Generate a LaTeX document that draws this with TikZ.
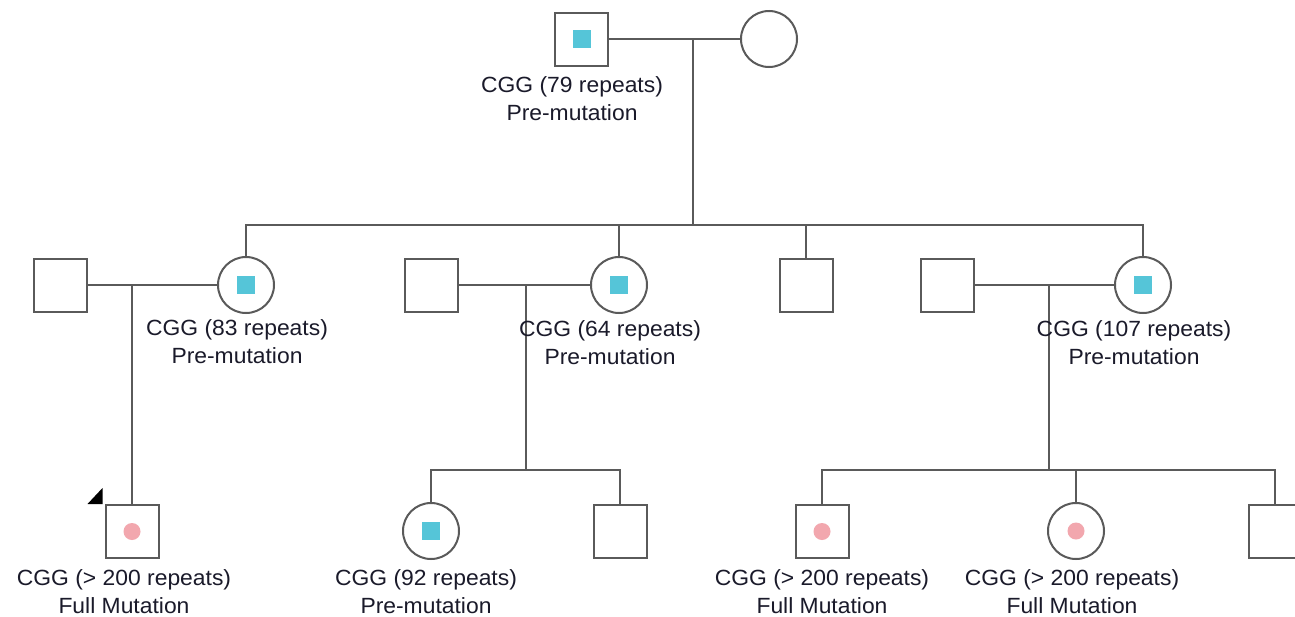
\documentclass[tikz,border=0pt]{standalone}
\usepackage{fontspec}
\setmainfont{Liberation Sans}[FakeStretch=1.04]
\usetikzlibrary{calc}
\definecolor{ln}{HTML}{5A5A5A}
\definecolor{cy}{HTML}{55C5D8}
\definecolor{pk}{HTML}{F2A7AE}
\definecolor{tx}{HTML}{1A1A2A}
\begin{document}
\begin{tikzpicture}[x=1pt,y=-1pt,line width=2pt,
  conn/.style={draw=ln,line width=2pt},
  male/.style={draw=ln,fill=white,minimum size=53pt,inner sep=0pt,line width=2pt},
  female/.style={circle,draw=ln,fill=white,minimum size=56pt,inner sep=0pt,line width=2pt},
  carrier/.style={path picture={\fill[cy] ($(path picture bounding box.center)+(-9pt,-9pt)$) rectangle ($(path picture bounding box.center)+(9pt,9pt)$);}},
  affected/.style={path picture={\fill[pk] (path picture bounding box.center) circle (8.5pt);}},
  lbl/.style={text=tx,font=\fontsize{22}{28}\selectfont,align=center,inner sep=0pt}]
\clip (0,0) rectangle (1295,616);
\fill[white] (0,0) rectangle (1295,616);
% generation 1
\node[male,carrier] (g1) at (581.5,39) {};
\node[female] (g2) at (769,39) {};
\coordinate (m0) at (693,39);
\coordinate (s0) at (693,225);
% generation 2
\node[male] (b1) at (60,285) {};
\node[female,carrier] (b2) at (246,285) {};
\node[male] (b3) at (431,285) {};
\node[female,carrier] (b4) at (619,285) {};
\node[male] (b5) at (806,285) {};
\node[male] (b6) at (947,285) {};
\node[female,carrier] (b7) at (1143,285) {};
\coordinate (m1) at (132,285);
\coordinate (m2) at (526,285);
\coordinate (m3) at (1049,285);
\coordinate (s2) at (526,470);
\coordinate (s3) at (1049,470);
% generation 3
\node[male,affected] (c1) at (132,531.5) {};
\node[female,carrier] (c2) at (431,531) {};
\node[male] (c3) at (620,531.5) {};
\node[male,affected] (c4) at (822,531.5) {};
\node[female,affected] (c5) at (1076,531) {};
\node[male] (c6) at (1275,531.5) {};
% connectors
\draw[conn] (g1) -- (g2);
\draw[conn] (m0) -- (s0);
\draw[conn] (b2.north) |- (s0) -| (b7.north);
\draw[conn] (b4.north) |- (s0);
\draw[conn] (b5.north) |- (s0);
\draw[conn] (b1) -- (b2);
\draw[conn] (b3) -- (b4);
\draw[conn] (b6) -- (b7);
\draw[conn] (m1) -- (c1.north);
\draw[conn] (m2) -- (s2);
\draw[conn] (c2.north) |- (s2) -| (c3.north);
\draw[conn] (m3) -- (s3);
\draw[conn] (c4.north) |- (s3) -| (c6.north);
\draw[conn] (c5.north) |- (s3);
% proband marker
\fill[black] ($(c1.north west)+(-17pt,0pt)$) -- ($(c1.north west)+(-2pt,0pt)$) -- ($(c1.north west)+(-2pt,16pt)$) -- cycle;
% labels
\node[lbl] (l0) at (572,99) {CGG (79 repeats)\\Pre-mutation};
\node[lbl] (l1) at (237,342) {CGG (83 repeats)\\Pre-mutation};
\node[lbl] (l2) at (610,343) {CGG (64 repeats)\\Pre-mutation};
\node[lbl] (l3) at (1134,343) {CGG (107 repeats)\\Pre-mutation};
\node[lbl] (l4) at (124,592) {CGG (> 200 repeats)\\Full Mutation};
\node[lbl] (l5) at (426,592) {CGG (92 repeats)\\Pre-mutation};
\node[lbl] (l6) at (822,592) {CGG (> 200 repeats)\\Full Mutation};
\node[lbl] (l7) at (1072,592) {CGG (> 200 repeats)\\Full Mutation};
\end{tikzpicture}
\end{document}
